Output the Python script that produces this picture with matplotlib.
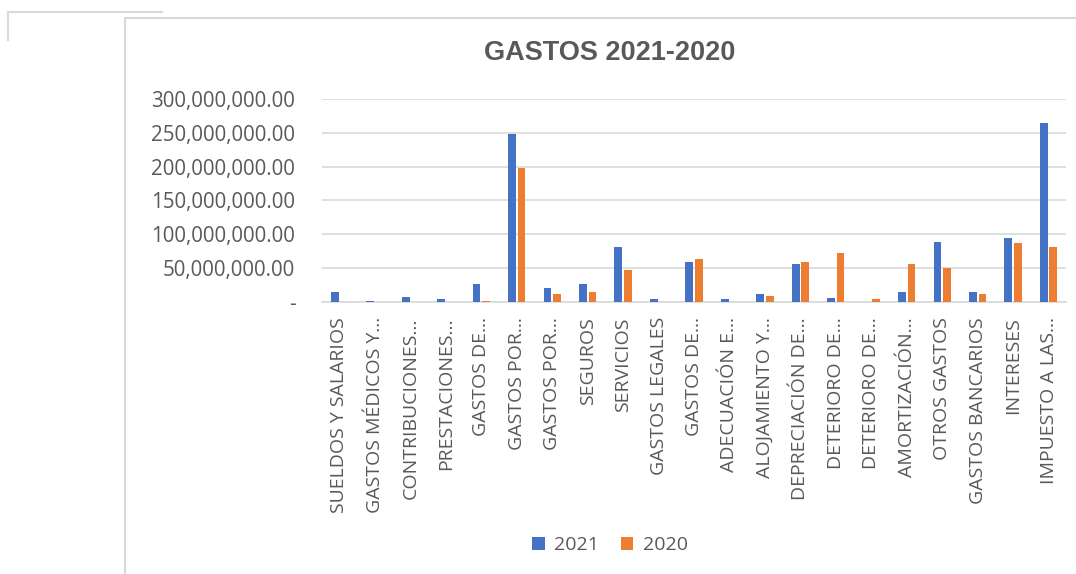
import matplotlib.pyplot as plt
from matplotlib.lines import Line2D
from matplotlib.ticker import FixedLocator
import numpy as np

plt.rcParams['font.family'] = ['Open Sans', 'DejaVu Sans']

# data
categorias = ["SUELDOS Y SALARIOS", "GASTOS MÉDICOS Y…", "CONTRIBUCIONES…",
              "PRESTACIONES…", "GASTOS DE…", "GASTOS POR…", "GASTOS POR…",
              "SEGUROS", "SERVICIOS", "GASTOS LEGALES", "GASTOS DE…",
              "ADECUACIÓN E…", "ALOJAMIENTO Y…", "DEPRECIACIÓN DE…",
              "DETERIORO DE…", "DETERIORO DE…", "AMORTIZACIÓN…",
              "OTROS GASTOS", "GASTOS BANCARIOS", "INTERESES", "IMPUESTO A LAS…"]
v2021 = [15e6, 0.8e6, 7e6, 4e6, 26e6, 248e6, 20e6, 26e6, 81e6, 4e6, 58.5e6,
         4e6, 12e6, 55.7e6, 6.4e6, 0.6e6, 15e6, 89e6, 15e6, 95e6, 264e6]
v2020 = [0, 0.2e6, 0.2e6, 0.2e6, 1e6, 198e6, 12e6, 15e6, 47e6, 0.6e6, 63.5e6,
         0.6e6, 9.4e6, 58.6e6, 72e6, 4e6, 55.7e6, 50e6, 12e6, 87e6, 81e6]
yticks = [0, 50e6, 100e6, 150e6, 200e6, 250e6, 300e6]
ytick_labels = ["-", "50,000,000.00", "100,000,000.00", "150,000,000.00",
                "200,000,000.00", "250,000,000.00", "300,000,000.00"]
series = ["2021", "2020"]

azul = "#4472C4"
naranja = "#ED7D31"
gris = "#595959"
rejilla = "#D9D9D9"

fig = plt.figure(figsize=(10.76, 5.74), dpi=100)
ax = fig.add_axes([0.299, 0.474, 0.692, 0.3535])

x = np.arange(len(categorias))
w = 0.22
ax.bar(x - 0.134, v2021, w, color=azul, label=series[0], zorder=3)
ax.bar(x + 0.134, v2020, w, color=naranja, label=series[1], zorder=3)

ax.set_xlim(-0.5, len(categorias) - 0.5)
ax.set_ylim(0, 300e6)
ax.yaxis.set_major_locator(FixedLocator(yticks))
ax.set_yticklabels(ytick_labels, fontsize=14.8, color=gris)
ax.set_xticks(x)
ax.set_xticklabels(categorias, rotation=90, fontsize=14, color=gris)
ax.tick_params(axis='y', length=0, pad=19)
ax.tick_params(axis='x', length=0, pad=11)
ax.grid(axis='y', color=rejilla, lw=1.2, zorder=0)
for s in ['top', 'right', 'left']:
    ax.spines[s].set_visible(False)
ax.spines['bottom'].set_color(rejilla)
ax.spines['bottom'].set_linewidth(1.2)

fig.text(0.567, 0.908, "GASTOS 2021-2020", ha='center', va='center',
         fontsize=19.5, fontweight='bold', color=gris, family='Liberation Sans')

fig.legend(loc='center', bbox_to_anchor=(0.567, 0.05), ncol=2, frameon=False,
           fontsize=14, labelcolor=gris, handlelength=0.65, handleheight=0.65,
           columnspacing=1.1, handletextpad=0.5)

# frame lines of the spreadsheet objects
W, H = 1076, 574
def fl(xs, ys):
    fig.add_artist(Line2D([a / W for a in xs], [1 - b / H for b in ys],
                          color="#D9D9D9", lw=1.5))
fl([8, 8, 162], [40, 12, 12])
fl([125, 125, 1076], [574, 18, 18])

fig.savefig("out.png", dpi=100)
